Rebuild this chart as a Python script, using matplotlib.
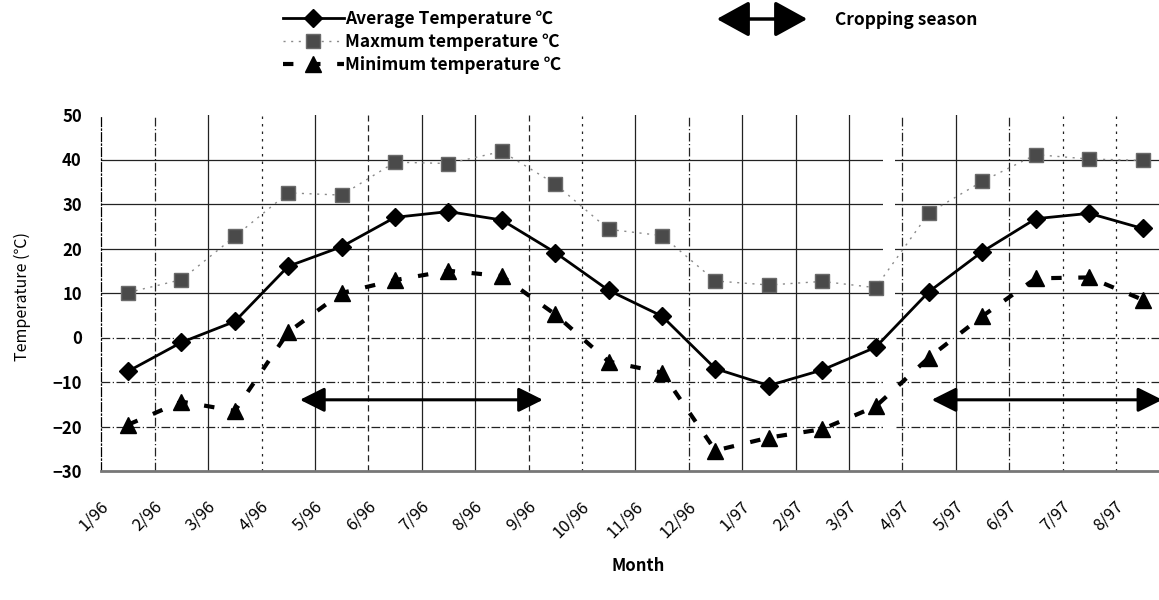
import matplotlib
matplotlib.use("Agg")
import matplotlib.pyplot as plt
from matplotlib.lines import Line2D
from matplotlib.transforms import offset_copy

plt.rcParams['font.family'] = ['Noto Sans CJK JP', 'DejaVu Sans']

# data
months = ['1/96', '2/96', '3/96', '4/96', '5/96', '6/96', '7/96', '8/96', '9/96', '10/96',
          '11/96', '12/96', '1/97', '2/97', '3/97', '4/97', '5/97', '6/97', '7/97', '8/97']
avg_temp = [-7.6, -1.1, 3.6, 16.0, 20.4, 27.0, 28.3, 26.4, 19.1, 10.6,
            4.8, -7.0, -10.8, -7.3, -2.2, 10.3, 19.3, 26.7, 27.9, 24.5]
max_temp = [10.1, 13.0, 22.7, 32.5, 32.0, 39.4, 39.1, 41.8, 34.5, 24.3,
            22.9, 12.7, 11.8, 12.6, 11.2, 28.0, 35.1, 41.1, 40.1, 39.8]
min_temp = [-19.6, -14.4, -16.5, 1.2, 10.0, 12.9, 15.0, 13.8, 5.2, -5.4,
            -7.9, -25.4, -22.5, -20.6, -15.5, -4.5, 4.8, 13.3, 13.5, 8.5]

# cropping season arrows (start, end in month index units, y value)
crop_seasons = [(3.22, 7.77), (15.05, 19.37)]
crop_y = -14

x = list(range(len(months)))

fig = plt.figure(figsize=(11.59, 6.0), dpi=100)
ax = fig.add_axes([101.3 / 1159, 129 / 600, 1068 / 1159, 356 / 600])

ax.set_xlim(-0.5, len(months) - 0.5)
ax.set_ylim(-30, 50)

# grid lines drawn by hand (scanned look: mix of solid and dash-dot)
dashdot = (0, (7, 2, 1, 2))
v_styles = [dashdot, '-', (0, (2, 4)), '-', (0, (5, 3)), '-', '-', (0, (5, 3)), (0, (2, 4)), '-',
            dashdot, '-', '-', '-', dashdot, '-', dashdot, (0, (2, 4)), (0, (2, 4))]
for i, ls in enumerate(v_styles):
    ax.axvline(i + 0.5, color='#222222', lw=0.9, ls=ls, zorder=1)
h_styles = {40: '-', 30: '-', 20: '-', 10: '-', 0: dashdot, -10: dashdot, -20: dashdot}
for yv, ls in h_styles.items():
    ax.axhline(yv, color='#222222', lw=0.9, ls=ls, zorder=1)
# white seam between the two scanned pieces
ax.axvspan(14.14, 14.36, color='white', zorder=1.5, lw=0)

ax.plot(x, max_temp, color='#8a8a8a', lw=1.0, ls=(0, (1.5, 4)), marker='s', markersize=10,
        markerfacecolor='#4a4a4a', markeredgecolor='#6a6a6a', zorder=3)
ax.plot(x, min_temp, color='black', lw=3, ls=(0, (2.5, 4)), marker='^', markersize=12,
        markerfacecolor='black', markeredgecolor='black', zorder=3)
ax.plot(x, avg_temp, color='black', lw=2, marker='D', markersize=9,
        markerfacecolor='black', markeredgecolor='black', zorder=4)

for x0, x1 in crop_seasons:
    ax.annotate('', xy=(x1, crop_y), xytext=(x0, crop_y),
                arrowprops=dict(arrowstyle='<|-|>,head_length=1.0,head_width=0.5',
                                color='black', lw=2.2, mutation_scale=15,
                                shrinkA=0, shrinkB=0), zorder=5)

ax.set_yticks(range(-30, 51, 10))
ax.tick_params(axis='y', length=0, pad=14, labelsize=12)
for lab in ax.get_yticklabels():
    lab.set_fontweight('bold')
ax.set_xticks(x)
ax.set_xticklabels([])
ax.tick_params(axis='x', length=0)

# rotated month labels
trans = offset_copy(ax.get_xaxis_transform(), fig=fig, x=-16, y=-27, units='dots')
for xi, m in zip(x, months):
    ax.text(xi, 0, m, rotation=45, ha='right', va='top', fontsize=12,
            transform=trans, clip_on=False)

for s in ['top', 'right']:
    ax.spines[s].set_visible(False)
ax.spines['left'].set_linestyle(dashdot)
ax.spines['left'].set_linewidth(0.9)
ax.spines['bottom'].set_color('#777777')
ax.spines['bottom'].set_linewidth(2)

fig.text(22 / 1159, 1 - 296 / 600, 'Temperature (℃)', rotation=90, ha='center', va='center',
         fontsize=11.5)
fig.text(638 / 1159, 1 - 566 / 600, 'Month', ha='center', va='center', fontsize=12,
         fontweight='bold')

# legend
handles = [
    Line2D([], [], color='black', lw=2, marker='D', markersize=9),
    Line2D([], [], color='#8a8a8a', lw=1.0, ls=(0, (1.5, 4)), marker='s', markersize=10,
           markerfacecolor='#4a4a4a', markeredgecolor='#6a6a6a'),
    Line2D([], [], color='black', lw=3, ls=(0, (2.5, 4)), marker='^', markersize=12),
]
labels = ['Average Temperature ℃', 'Maxmum temperature ℃', 'Minimum temperature ℃']
fig.legend(handles, labels, loc='upper left', bbox_to_anchor=(276 / 1159, 1 - 3 / 600),
           frameon=False, prop={'size': 12.5, 'weight': 'bold'}, handlelength=3.5,
           handletextpad=0.1, labelspacing=0.3, borderaxespad=0)

fig.add_artist(matplotlib.patches.FancyArrowPatch(
    (714 / 1159, 1 - 19 / 600), (810 / 1159, 1 - 19 / 600), transform=fig.transFigure,
    arrowstyle='<|-|>,head_length=1.0,head_width=0.55', mutation_scale=20,
    color='black', lw=2.5))
fig.text(835 / 1159, 1 - 20 / 600, 'Cropping season', ha='left', va='center', fontsize=12.5,
         fontweight='bold')

fig.savefig('out.png', dpi=100)
